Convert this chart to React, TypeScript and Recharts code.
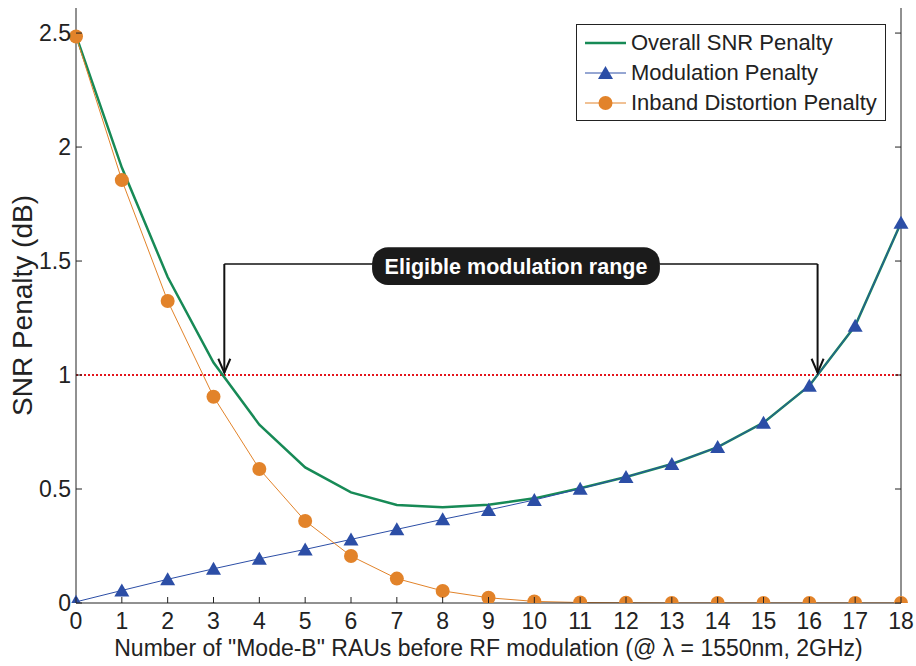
import React from "react";
import {
  LineChart,
  Line,
  XAxis,
  YAxis,
  ReferenceLine,
  ReferenceArea,
  ReferenceDot,
  Legend,
} from "recharts";

// number of "Mode-B" RAUs before RF modulation
const raus = [0, 1, 2, 3, 4, 5, 6, 7, 8, 9, 10, 11, 12, 13, 14, 15, 16, 17, 18];
const overallPenalty = [2.49, 1.91, 1.43, 1.055, 0.782, 0.595, 0.485, 0.43, 0.42, 0.431, 0.459, 0.503, 0.553, 0.61, 0.684, 0.791, 0.953, 1.216, 1.668];
const modulationPenalty = [0.005, 0.055, 0.104, 0.15, 0.194, 0.235, 0.279, 0.323, 0.367, 0.408, 0.452, 0.501, 0.553, 0.61, 0.684, 0.791, 0.953, 1.216, 1.668];
const inbandPenalty = [2.485, 1.855, 1.325, 0.905, 0.588, 0.36, 0.206, 0.107, 0.053, 0.023, 0.007, 0.002, 0.001, 0, 0, 0, 0, 0, 0];

const xTicks = raus;
const yTicks = [0, 0.5, 1, 1.5, 2, 2.5];
const threshold = 1;

// annotation: eligible range bracket (data coords)
const rangeStart = 3.236;
const rangeEnd = 16.18;
const bracketY = 1.487;
const labelBox = { x1: 6.46, x2: 12.74, y1: 1.395, y2: 1.561 };

const GREEN = "#178A56";
const BLUE = "#2C4EA6";
const ORANGE = "#E2832A";
const FONT = "'Liberation Sans', Arial, Helvetica, sans-serif";

const data = raus.map((n, i) => ({
  n,
  overall: overallPenalty[i],
  modulation: modulationPenalty[i],
  inband: inbandPenalty[i],
}));

const legendItems = [
  { name: "Overall SNR Penalty", color: GREEN, marker: "none", width: 2.5 },
  { name: "Modulation Penalty", color: BLUE, marker: "triangle", width: 1 },
  { name: "Inband Distortion Penalty", color: ORANGE, marker: "circle", width: 1 },
];

const Triangle = ({ cx, cy, fill }: any) => {
  if (cx == null || cy == null) return null;
  return <path d={`M${cx},${cy - 7} L${cx + 7.5},${cy + 6} L${cx - 7.5},${cy + 6} Z`} fill={fill} />;
};

const BottomTick = ({ x, y, payload }: any) => (
  <g>
    <line x1={x} x2={x} y1={y} y2={y - 6} stroke="#222" />
    <text x={x} y={y + 26} textAnchor="middle" fontSize={23} fontFamily={FONT} fill="#222">
      {payload.value}
    </text>
  </g>
);

const TopTick = ({ x, y }: any) => <line x1={x} x2={x} y1={y} y2={y + 6} stroke="#222" />;

const LeftTick = ({ x, y, payload }: any) => (
  <g>
    <line x1={x} x2={x + 6} y1={y} y2={y} stroke="#222" />
    <text x={x - 5} y={y + 8} textAnchor="end" fontSize={23} fontFamily={FONT} fill="#222">
      {payload.value}
    </text>
  </g>
);

const RightTick = ({ x, y }: any) => <line x1={x} x2={x - 6} y1={y} y2={y} stroke="#222" />;

const ArrowHead = ({ cx, cy }: any) => (
  <path
    d={`M${cx - 6},${cy - 14} L${cx},${cy} L${cx + 6},${cy - 14}`}
    fill="none"
    stroke="#111"
    strokeWidth={2}
  />
);

const LabelBox = ({ x, y, width, height }: any) => (
  <rect x={x} y={y} width={width} height={height} rx={16} ry={16} fill="#1b1b1b" />
);

const LegendBox = () => (
  <div
    style={{
      width: 310,
      height: 97,
      border: "1px solid #222",
      background: "#fff",
      fontFamily: FONT,
      fontSize: 22,
      color: "#222",
      boxSizing: "border-box",
      paddingTop: 3,
    }}
  >
    {legendItems.map((it) => (
      <div key={it.name} style={{ display: "flex", alignItems: "center", height: 30 }}>
        <svg width={54} height={20} style={{ flex: "none" }}>
          <line x1={8} x2={49} y1={10} y2={10} stroke={it.color} strokeWidth={it.width} />
          {it.marker === "triangle" && <Triangle cx={28.5} cy={10} fill={it.color} />}
          {it.marker === "circle" && <circle cx={28.5} cy={10} r={7} fill={it.color} />}
        </svg>
        <span style={{ whiteSpace: "nowrap" }}>{it.name}</span>
      </div>
    ))}
  </div>
);

export default function App() {
  return (
    <div style={{ position: "absolute", left: 0, top: 0, width: 916, height: 666, background: "#fff" }}>
      <LineChart width={916} height={666} data={data} margin={{ top: 8, right: 0, bottom: 0, left: 0 }}>
        <XAxis
          xAxisId="b"
          dataKey="n"
          type="number"
          domain={[0, 18]}
          ticks={xTicks}
          interval={0}
          height={63}
          tickSize={0}
          tickMargin={0}
          tick={<BottomTick />}
          axisLine={{ stroke: "#222" }}
          label={{
            value: 'Number of "Mode-B" RAUs before RF modulation (@ \u03bb = 1550nm, 2GHz)',
            position: "insideBottom",
            offset: 10,
            fontSize: 23,
            fontFamily: FONT,
            fill: "#222",
          }}
        />
        <XAxis
          xAxisId="t"
          orientation="top"
          dataKey="n"
          type="number"
          domain={[0, 18]}
          ticks={xTicks}
          interval={0}
          height={0}
          tickSize={0}
          tickMargin={0}
          tick={<TopTick />}
          axisLine={{ stroke: "#222" }}
        />
        <YAxis
          yAxisId="l"
          type="number"
          domain={[0, 2.61]}
          allowDataOverflow
          ticks={yTicks}
          interval={0}
          width={76}
          tickSize={0}
          tickMargin={0}
          tick={<LeftTick />}
          axisLine={{ stroke: "#222" }}
          label={{
            value: "SNR Penalty (dB)",
            angle: -90,
            position: "insideLeft",
            offset: 22,
            fontSize: 28,
            fontFamily: FONT,
            fill: "#222",
            style: { textAnchor: "middle" },
          }}
        />
        <YAxis
          yAxisId="r"
          orientation="right"
          type="number"
          domain={[0, 2.61]}
          allowDataOverflow
          ticks={yTicks}
          interval={0}
          width={15}
          tickSize={0}
          tickMargin={0}
          tick={<RightTick />}
          axisLine={{ stroke: "#222" }}
        />

        <ReferenceLine
          xAxisId="b"
          yAxisId="l"
          y={threshold}
          stroke="#E3141C"
          strokeWidth={2}
          strokeDasharray="2 2"
        />

        <ReferenceLine
          xAxisId="b"
          yAxisId="l"
          segment={[{ x: rangeStart, y: bracketY }, { x: rangeStart, y: threshold + 0.01 }]}
          stroke="#111"
          strokeWidth={2}
        />
        <ReferenceLine
          xAxisId="b"
          yAxisId="l"
          segment={[{ x: rangeStart, y: bracketY }, { x: labelBox.x1, y: bracketY }]}
          stroke="#111"
          strokeWidth={1.5}
        />
        <ReferenceLine
          xAxisId="b"
          yAxisId="l"
          segment={[{ x: labelBox.x2, y: bracketY }, { x: rangeEnd, y: bracketY }]}
          stroke="#111"
          strokeWidth={1.5}
        />
        <ReferenceLine
          xAxisId="b"
          yAxisId="l"
          segment={[{ x: rangeEnd, y: bracketY }, { x: rangeEnd, y: threshold + 0.01 }]}
          stroke="#111"
          strokeWidth={2}
        />
        <ReferenceDot xAxisId="b" yAxisId="l" x={rangeStart} y={threshold + 0.01} shape={<ArrowHead />} />
        <ReferenceDot xAxisId="b" yAxisId="l" x={rangeEnd} y={threshold + 0.01} shape={<ArrowHead />} />
        <ReferenceArea
          xAxisId="b"
          yAxisId="l"
          x1={labelBox.x1}
          x2={labelBox.x2}
          y1={labelBox.y1}
          y2={labelBox.y2}
          fillOpacity={1}
          shape={<LabelBox />}
          label={{
            value: "Eligible modulation range",
            position: "center",
            fill: "#fff",
            fontSize: 21.5,
            fontWeight: "bold",
            fontFamily: FONT,
          }}
        />

        <Line
          xAxisId="b"
          yAxisId="l"
          dataKey="overall"
          name="Overall SNR Penalty"
          stroke={GREEN}
          strokeWidth={2.5}
          dot={false}
          isAnimationActive={false}
        />
        <Line
          xAxisId="b"
          yAxisId="l"
          dataKey="modulation"
          name="Modulation Penalty"
          stroke={BLUE}
          strokeWidth={1}
          dot={<Triangle fill={BLUE} />}
          isAnimationActive={false}
        />
        <Line
          xAxisId="b"
          yAxisId="l"
          dataKey="inband"
          name="Inband Distortion Penalty"
          stroke={ORANGE}
          strokeWidth={1}
          dot={{ r: 7, fill: ORANGE, stroke: "none" }}
          isAnimationActive={false}
        />

        <Legend
          layout="vertical"
          align="center"
          verticalAlign="middle"
          content={<LegendBox />}
          wrapperStyle={{ left: 576, top: 24, width: 310, height: 97 }}
        />
      </LineChart>
    </div>
  );
}
